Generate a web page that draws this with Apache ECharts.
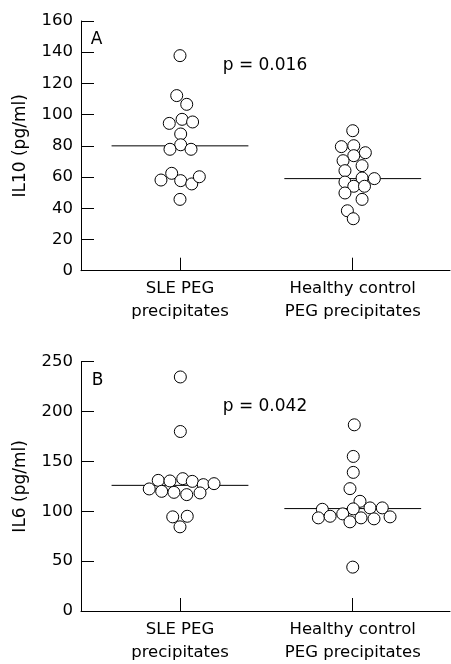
<!DOCTYPE html>
<html>
<head>
<meta charset="utf-8">
<script src="https://cdn.jsdelivr.net/npm/echarts@6/dist/echarts.min.js"></script>
<style>
  html, body { margin: 0; padding: 0; background: #fff; }
  #chart { width: 451px; height: 664px; }
</style>
</head>
<body>
<div id="chart"></div>
<script>
// group labels on the x axis
const groups = ['SLE PEG\nprecipitates', 'Healthy control\nPEG precipitates'];

// panel A: IL10 (pg/ml), jitter is the horizontal spread in group units
const il10Sle = [137.8, 112.2, 106.6, 94.4, 97.0, 95.3, 87.6, 80.7, 77.8, 77.8, 58.1, 62.4, 57.7, 55.6, 60.2, 45.7];
const il10SleJitter = [0, -0.019, 0.039, -0.062, 0.012, 0.073, 0.004, 0.004, -0.058, 0.064, -0.110, -0.048, 0.004, 0.068, 0.112, 0];
const il10Hc = [89.7, 79.5, 80.1, 75.6, 73.7, 70.5, 67.3, 64.1, 56.8, 54.1, 59.4, 59.0, 54.1, 49.8, 45.7, 38.4, 33.3];
const il10HcJitter = [0, -0.066, 0.006, 0.073, 0.006, -0.056, 0.054, -0.045, -0.045, 0.006, 0.054, 0.125, 0.068, -0.045, 0.054, -0.031, 0.003];
const il10Medians = [80, 59];
const il10Ticks = [0, 20, 40, 60, 80, 100, 120, 140, 160];

// panel B: IL6 (pg/ml)
const il6Sle = [234.7, 180, 131.0, 130.4, 132.7, 130, 126.7, 127.7, 122.4, 120, 119, 116.7, 118.4, 94.4, 95, 84.4];
const il6SleJitter = [0.002, 0.002, -0.126, -0.058, 0.016, 0.071, 0.135, 0.197, -0.178, -0.106, -0.035, 0.039, 0.116, -0.042, 0.042, 0];
const il6Hc = [186.7, 155, 139, 122.7, 110, 102, 102.4, 103.4, 103.4, 93.4, 95, 97.4, 89.4, 93.4, 92.4, 94.4, 44];
const il6HcJitter = [0.009, 0.003, 0.003, -0.016, 0.042, -0.176, 0.003, 0.1, 0.171, -0.199, -0.131, -0.058, -0.016, 0.048, 0.123, 0.216, 0];
const il6Medians = [126, 102.7];
const il6Ticks = [0, 50, 100, 150, 200, 250];

const FONT = 'DejaVu Sans';
const halfLine = 0.396;

function points(values, jitter, group) {
    return values.map((v, i) => [group + jitter[i], v]);
}

function xAxisFor(gridIndex) {
    return {
        gridIndex: gridIndex,
        type: 'value',
        min: 0.427,
        max: 2.563,
        axisLine: { lineStyle: { color: '#000', width: 1 } },
        axisTick: { inside: true, length: 13, customValues: [1, 2], lineStyle: { color: '#000' } },
        axisLabel: {
            customValues: [1, 2],
            formatter: (v) => groups[Math.round(v) - 1],
            color: '#000',
            fontFamily: FONT,
            fontSize: 16.5,
            lineHeight: 23,
            margin: 7
        },
        splitLine: { show: false }
    };
}

function yAxisFor(gridIndex, name, ticks) {
    return {
        gridIndex: gridIndex,
        type: 'value',
        min: ticks[0],
        max: ticks[ticks.length - 1],
        interval: ticks[1] - ticks[0],
        name: name,
        nameLocation: 'middle',
        nameRotate: 90,
        nameGap: 52,
        nameTextStyle: { color: '#000', fontFamily: FONT, fontSize: 17 },
        axisLine: { show: true, lineStyle: { color: '#000', width: 1 } },
        axisTick: { show: true, inside: true, length: 13, lineStyle: { color: '#000' } },
        axisLabel: { color: '#000', fontFamily: FONT, fontSize: 16.5, margin: 8 },
        splitLine: { show: false }
    };
}

function dotSeries(idx, data) {
    return {
        type: 'scatter',
        xAxisIndex: idx,
        yAxisIndex: idx,
        data: data,
        symbol: 'circle',
        symbolSize: 12,
        itemStyle: { color: '#fff', borderColor: '#000', borderWidth: 1, opacity: 1 },
        z: 3,
        silent: true
    };
}

function medianSeries(idx, group, median) {
    return {
        type: 'line',
        xAxisIndex: idx,
        yAxisIndex: idx,
        data: [[group - halfLine, median], [group + halfLine, median]],
        symbol: 'none',
        lineStyle: { color: '#000', width: 1 },
        z: 2,
        silent: true
    };
}

const chart = echarts.init(document.getElementById('chart'), null, { renderer: 'canvas' });

chart.setOption({
    backgroundColor: '#fff',
    animation: false,
    grid: [
        { left: 81, top: 21, width: 369, height: 249.7 },
        { left: 81, top: 361.7, width: 369, height: 250 }
    ],
    xAxis: [xAxisFor(0), xAxisFor(1)],
    yAxis: [yAxisFor(0, 'IL10 (pg/ml)', il10Ticks), yAxisFor(1, 'IL6 (pg/ml)', il6Ticks)],
    series: [
        medianSeries(0, 1, il10Medians[0]),
        medianSeries(0, 2, il10Medians[1]),
        dotSeries(0, points(il10Sle, il10SleJitter, 1)),
        dotSeries(0, points(il10Hc, il10HcJitter, 2)),
        medianSeries(1, 1, il6Medians[0]),
        medianSeries(1, 2, il6Medians[1]),
        dotSeries(1, points(il6Sle, il6SleJitter, 1)),
        dotSeries(1, points(il6Hc, il6HcJitter, 2))
    ],
    graphic: [
        { type: 'text', style: { x: 90.7, y: 39.5, text: 'A', fill: '#000', font: '17px "DejaVu Sans"', textVerticalAlign: 'middle' } },
        { type: 'text', style: { x: 222.7, y: 66, text: 'p = 0.016', fill: '#000', font: '17px "DejaVu Sans"', textVerticalAlign: 'middle' } },
        { type: 'text', style: { x: 91.7, y: 381, text: 'B', fill: '#000', font: '17px "DejaVu Sans"', textVerticalAlign: 'middle' } },
        { type: 'text', style: { x: 222.7, y: 406.5, text: 'p = 0.042', fill: '#000', font: '17px "DejaVu Sans"', textVerticalAlign: 'middle' } }
    ]
});
</script>
</body>
</html>
